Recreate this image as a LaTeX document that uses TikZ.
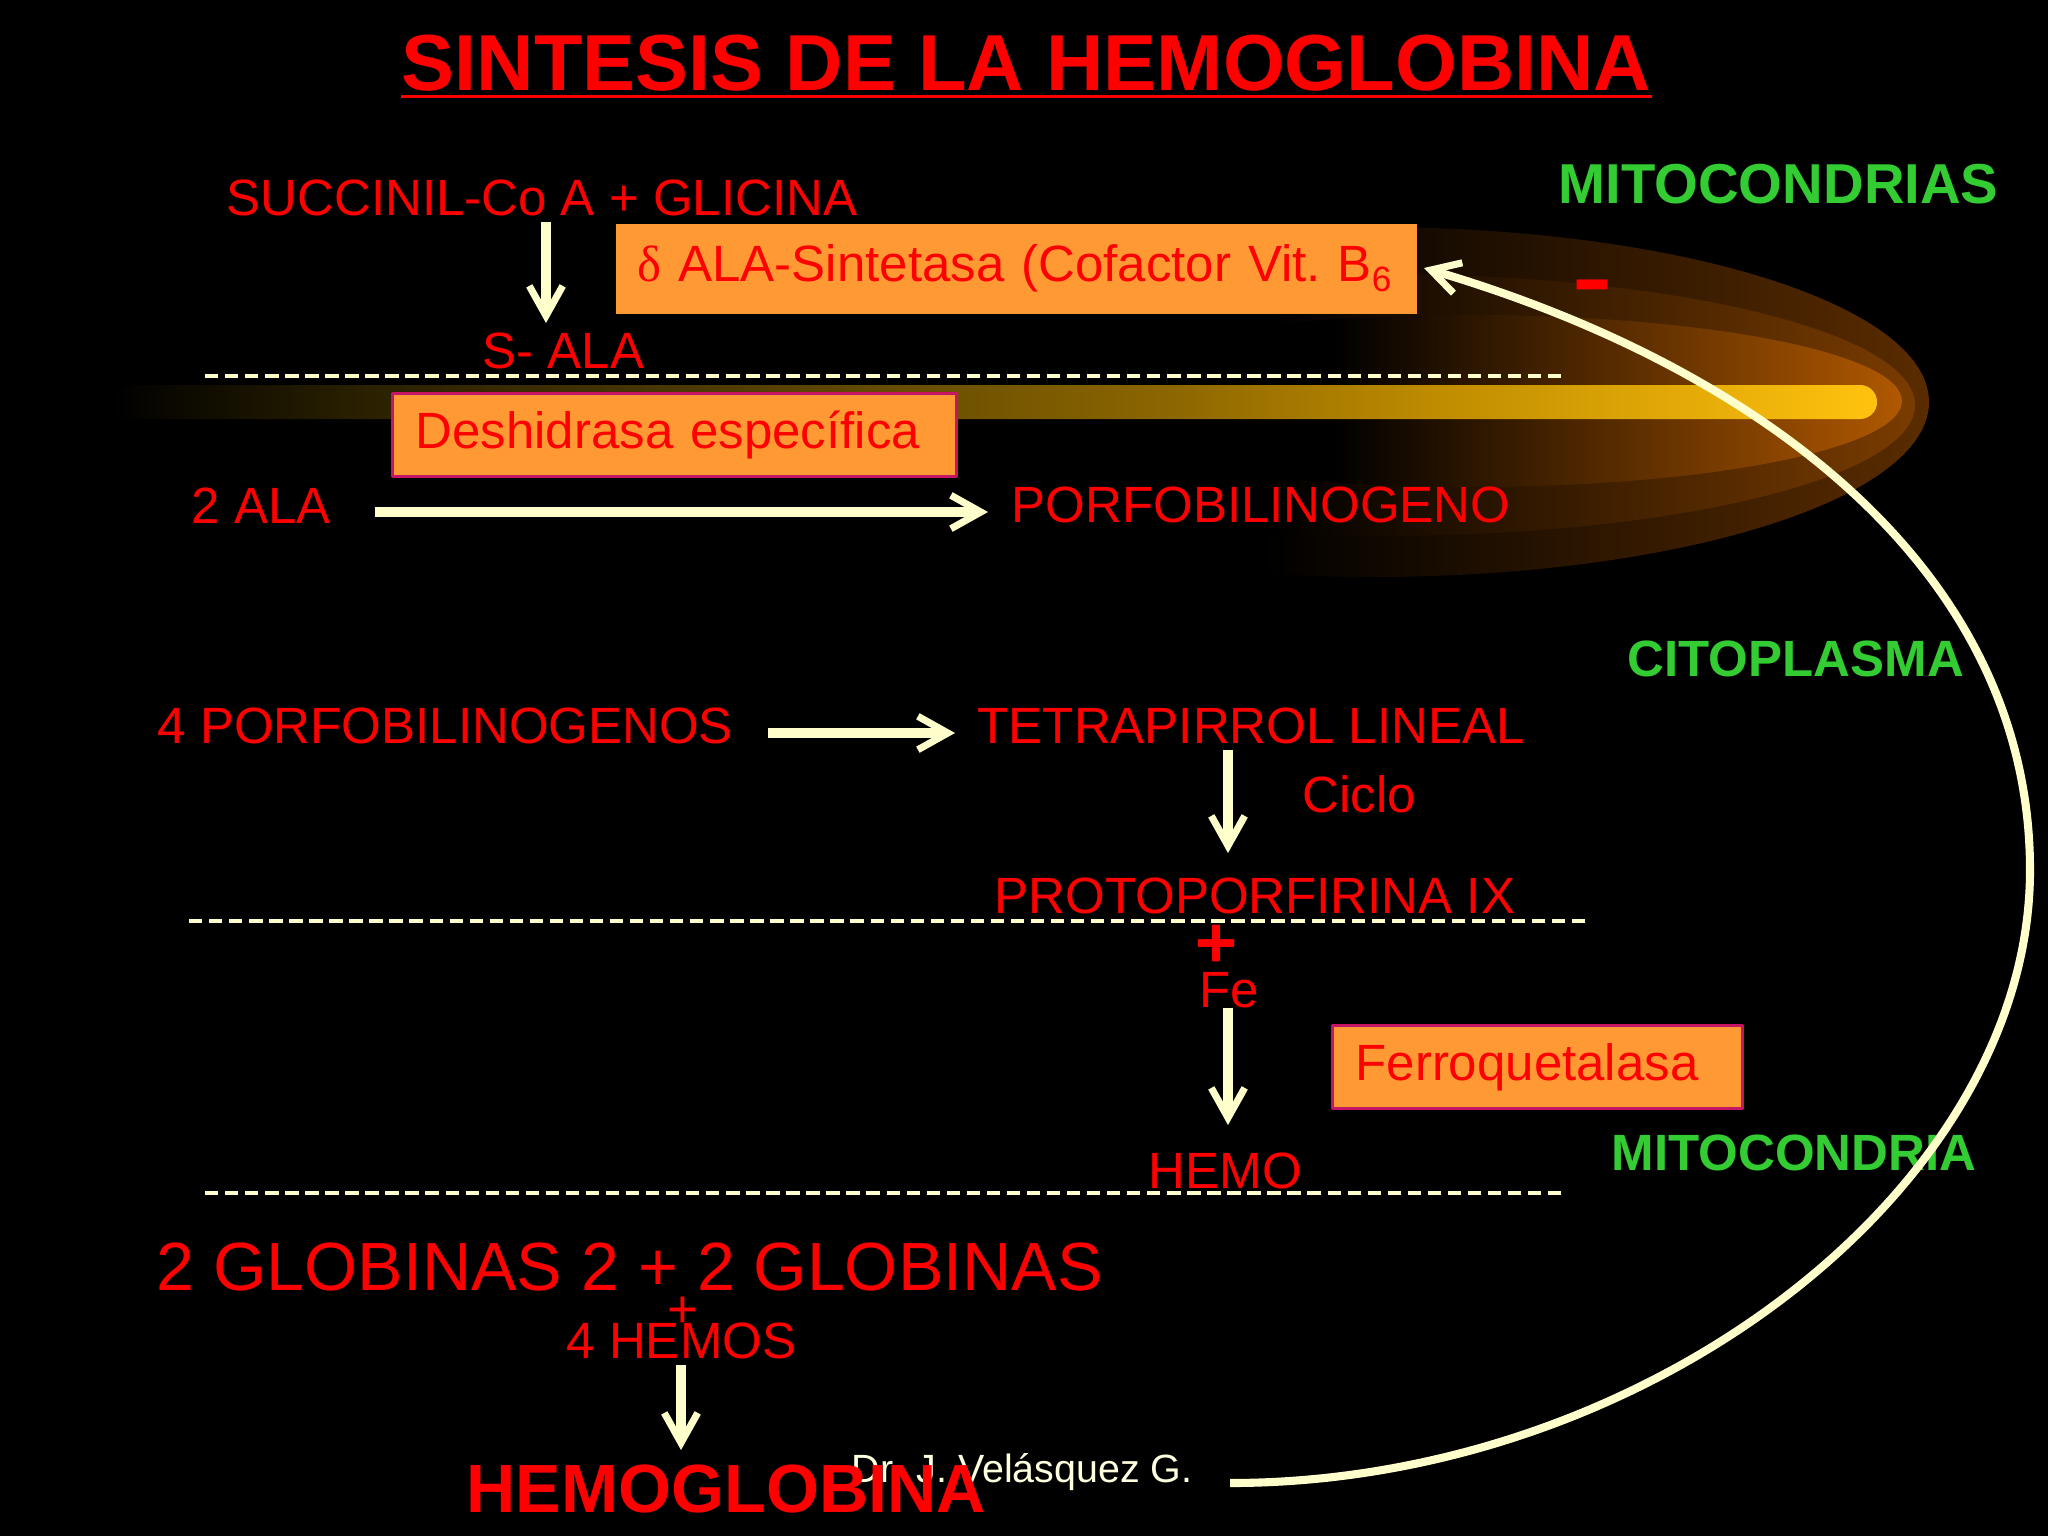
\documentclass[tikz,border=0pt]{standalone}
\usepackage{fontspec}
\setmainfont{Liberation Sans}
\newfontfamily\grkfont{Liberation Serif}
\usetikzlibrary{arrows.meta}

\definecolor{hemred}{RGB}{255,0,0}
\definecolor{zonegreen}{RGB}{51,204,51}
\definecolor{enzfill}{RGB}{255,153,51}
\definecolor{enzborder}{RGB}{200,20,100}
\definecolor{cream}{RGB}{255,255,204}
\definecolor{glowout}{RGB}{90,44,0}
\definecolor{glowmid}{RGB}{122,60,0}
\definecolor{glowin}{RGB}{176,88,0}
\definecolor{barA}{RGB}{42,32,0}
\definecolor{barB}{RGB}{74,56,0}
\definecolor{barC}{RGB}{140,102,0}
\definecolor{barD}{RGB}{191,140,0}
\definecolor{barE}{RGB}{255,194,14}

% glow of the mitochondrion, fading to the left
\pgfdeclarehorizontalshading{glowouter}{100bp}{color(0bp)=(black); color(45bp)=(black); color(75bp)=(glowout); color(100bp)=(glowout)}
\pgfdeclarehorizontalshading{glowmiddle}{100bp}{color(0bp)=(black); color(45bp)=(black); color(75bp)=(glowmid); color(100bp)=(glowmid)}
\pgfdeclarehorizontalshading{glowinner}{100bp}{color(0bp)=(black); color(42bp)=(black); color(75bp)=(glowin); color(100bp)=(glowin)}
\pgfdeclarehorizontalshading{barglow}{100bp}{color(0bp)=(black); color(25bp)=(black); color(32bp)=(barA); color(41bp)=(barB); color(55bp)=(barC); color(62.5bp)=(barD); color(75bp)=(barE); color(100bp)=(barE)}

\begin{document}
\begin{tikzpicture}[x=0.01cm,y=-0.01cm,line join=round,
  txt/.style={anchor=base west,inner sep=0pt,text=hemred,font=\fontsize{14.5}{17}\selectfont},
  zone/.style={anchor=base west,inner sep=0pt,text=zonegreen,font=\bfseries\fontsize{14.5}{17}\selectfont},
  enz/.style={anchor=north west,fill=enzfill,draw=enzborder,line width=0.85pt,text=hemred,font=\fontsize{14.5}{17}\selectfont,align=left,inner ysep=0pt,inner xsep=0.23cm},
  sep/.style={cream,line width=1.1pt,dash pattern=on 3.8pt off 1.9pt},
  flow/.style={cream,line width=2.85pt,-{Straight Barb[length=8.5pt,width=9.5pt,line width=2pt]}},
  retro/.style={cream,line width=2.3pt,-{Straight Barb[length=8pt,width=9pt,line width=2pt]}}]
  \path[use as bounding box,fill=black] (0,0) rectangle (2048,1536);
  % mitochondrion
  \shade[shading=glowouter] (1372,402) ellipse [x radius=557, y radius=175];
  \shade[shading=glowmiddle] (1380,405) ellipse [x radius=535, y radius=131];
  \shade[shading=glowinner] (1470,401) ellipse [x radius=432, y radius=86];
  \shade[shading=barglow,rounded corners=4.8pt] (112,385) rectangle (1877,419);
  % compartment borders
  \draw[sep] (205,376) -- (1565,376);
  \draw[sep] (189,921) -- (1588,921);
  \draw[sep] (205,1193) -- (1565,1193);
  % enzymes
  \node[enz,draw=none,text width=7.57cm,minimum height=0.9cm,inner xsep=0.22cm] (alasint) at (614,222) {\mbox{{\grkfont δ} ALA-Sintetasa (Cofactor Vit.\ B\raisebox{-0.35ex}{\fontsize{10}{10}\selectfont 6}}};
  \node[enz,text width=5.18cm,minimum height=0.83cm] (deshid) at (391,392) {\mbox{Deshidrasa específica}};
  \node[enz,text width=3.64cm,minimum height=0.83cm] (ferro) at (1331,1024) {\mbox{Ferroquetalasa}};
  % title
  \node[txt,font=\bfseries\fontsize{22.6}{27}\selectfont] (title) at (401,90) {SINTESIS DE LA HEMOGLOBINA};
  \draw[hemred,line width=1.1pt] ([yshift=-1.85pt]title.base west) -- ([yshift=-1.85pt]title.base east);
  % compartments
  \node[zone,font=\bfseries\fontsize{16}{19}\selectfont] (mitos) at (1558,203) {MITOCONDRIAS};
  \node[zone] (citopl) at (1627,676) {CITOPLASMA};
  \node[zone] (mitoc) at (1611,1170) {MITOCONDRIA};
  % pathway
  \node[txt] (succ) at (226,215) {SUCCINIL-Co A + GLICINA};
  \node[txt] (sala) at (482,368) {S- ALA};
  \node[txt] (dosala) at (191,523) {2 ALA};
  \node[txt] (porfo) at (1011,522) {PORFOBILINOGENO};
  \node[txt] (cuatrop) at (157,743) {4 PORFOBILINOGENOS};
  \node[txt] (tetra) at (977,743) {TETRAPIRROL LINEAL};
  \node[txt] (ciclo) at (1302,812) {Ciclo};
  \node[txt] (proto) at (994,913) {PROTOPORFIRINA IX};
  \node[anchor=base,inner sep=0pt,text=hemred,font=\bfseries\fontsize{20.5}{24}\selectfont] (masfe) at (1217,967) {+};
  \node[txt] (fe) at (1199,1007) {Fe};
  \node[txt] (hemo) at (1148,1188) {HEMO};
  \node[txt,font=\fontsize{19.4}{23}\selectfont] (globinas) at (156,1290) {2 GLOBINAS 2 + 2 GLOBINAS};
  \node[anchor=base,inner sep=0pt,text=hemred,font=\fontsize{15}{17}\selectfont] (masglob) at (683,1327) {+};
  \node[txt] (hemos) at (566,1358) {4 HEMOS};
  \node[anchor=base west,inner sep=0pt,text=cream!60!white,font=\fontsize{11.2}{13}\selectfont] (autor) at (851,1482) {Dr. J. Velásquez G.};
  \node[txt,font=\bfseries\fontsize{19.4}{23}\selectfont] (hemoglob) at (466,1512) {HEMOGLOBINA};
  \node[txt,font=\fontsize{36}{40}\selectfont] (menos) at (1571,318) {-};
  % arrows
  \coordinate (a1s) at (546,222);
  \coordinate (a1e) at (546,323);
  \coordinate (a2s) at (375,512);
  \coordinate (a2e) at (988,512);
  \coordinate (a3s) at (768,733);
  \coordinate (a3e) at (955,733);
  \coordinate (a4s) at (1228,750);
  \coordinate (a4e) at (1228,853);
  \coordinate (a5s) at (1228,1008);
  \coordinate (a5e) at (1228,1125);
  \coordinate (a6s) at (681,1365);
  \coordinate (a6e) at (681,1450);
  \draw[flow] (a1s) -- (a1e);
  \draw[flow] (a2s) -- (a2e);
  \draw[flow] (a3s) -- (a3e);
  \draw[flow] (a4s) -- (a4e);
  \draw[flow] (a5s) -- (a5e);
  \draw[flow] (a6s) -- (a6e);
  % feedback inhibition
  \coordinate (r0) at (1230,1483);
  \coordinate (r1) at (2030,870);
  \coordinate (r2) at (1424,268);
  \draw[retro] (r0) .. controls (1646,1483) and (2030,1189) .. (r1) .. controls (2030,570) and (1760,367) .. (r2);
\end{tikzpicture}
\end{document}
